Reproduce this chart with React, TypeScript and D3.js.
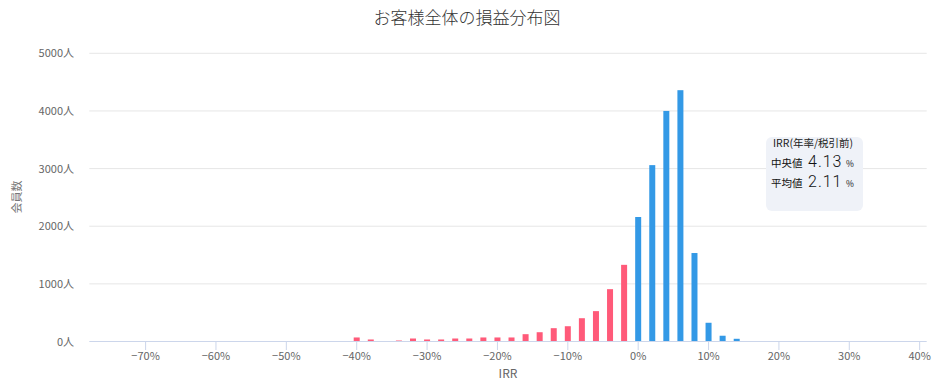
import React from "react";
import * as d3 from "d3";

const irrBins: number[] = [-40, -38, -36, -34, -32, -30, -28, -26, -24, -22, -20, -18, -16, -14, -12, -10, -8, -6, -4, -2, 0, 2, 4, 6, 8, 10, 12, 14];
const memberCounts: number[] = [70, 35, 0, 17, 52, 35, 35, 52, 52, 70, 70, 70, 127, 161, 231, 265, 404, 527, 908, 1330, 2160, 3060, 4000, 4360, 1535, 325, 100, 47];
const xTicks: number[] = [-70, -60, -50, -40, -30, -20, -10, 0, 10, 20, 30, 40];
const yTicks: number[] = [0, 1000, 2000, 3000, 4000, 5000];
const titleText = "お客様全体の損益分布図";
const yTitle = "会員数";
const xTitle = "IRR";
const infoHeader = "IRR(年率/税引前)";
const infoLabels: string[] = ["中央値", "平均値"];
const infoValues: string[] = ["4.13", "2.11"];

const W = 943;
const H = 385;
const FONT = "'Noto Sans CJK JP', 'Noto Sans', sans-serif";

export default function App() {
  const x = d3.scaleLinear().domain([-78, 41]).range([89.3, 926.7]);
  const y = d3.scaleLinear().domain([0, 5000]).range([341.5, 53.3]);
  const barW = 6;
  const fmtX = (v: number) => (v < 0 ? "\u2212" + Math.abs(v) : String(v)) + "%";

  return (
    <svg width={W} height={H} style={{ position: "absolute", left: 0, top: 0, background: "#fff" }} fontFamily={FONT}>
      <text x={467} y={24} textAnchor="middle" fontSize={17} fill="#333" fontWeight={300}>{titleText}</text>

      {yTicks.map((t) => (
        <g key={t}>
          {t > 0 && <line x1={89.3} x2={926.7} y1={y(t)} y2={y(t)} stroke="#e6e6e6" strokeWidth={1} />}
          <text x={74} y={y(t) + 4} textAnchor="end" fontSize={11} fill="#666">{t}人</text>
        </g>
      ))}

      <text transform={`translate(21,197) rotate(-90)`} textAnchor="middle" fontSize={11} fill="#777">{yTitle}</text>

      {irrBins.map((b, i) => (
        <rect key={b} x={x(b) - barW / 2} y={y(memberCounts[i])} width={barW} height={y(0) - y(memberCounts[i])} fill={b < 0 ? "#ff5a79" : "#3399e6"} />
      ))}

      <line x1={89.3} x2={926.7} y1={341.5} y2={341.5} stroke="#ccd6eb" strokeWidth={1} />
      {xTicks.map((t) => (
        <g key={t}>
          <line x1={x(t)} x2={x(t)} y1={341.5} y2={350} stroke="#ccd6eb" strokeWidth={1} />
          <text x={x(t)} y={360} textAnchor="middle" fontSize={11} fill="#666">{fmtX(t)}</text>
        </g>
      ))}
      <text x={508} y={378} textAnchor="middle" fontSize={12} fill="#666">{xTitle}</text>

      <rect x={766} y={137} width={97} height={74} rx={6} fill="#eff2f8" />
      <text x={773} y={147} fontSize={10.5} fill="#222">{infoHeader}</text>
      {infoLabels.map((l, i) => (
        <g key={l}>
          <text x={771} y={167 + i * 19.5} fontSize={10.5} fill="#111">{l}</text>
          <text x={808} y={167 + i * 19.5} fontSize={16} fill="#111" fontFamily="Roboto, sans-serif" fontWeight={300} letterSpacing={1}>{infoValues[i]}</text>
          <text x={846} y={167 + i * 19.5} fontSize={8.5} fill="#111">%</text>
        </g>
      ))}
    </svg>
  );
}
